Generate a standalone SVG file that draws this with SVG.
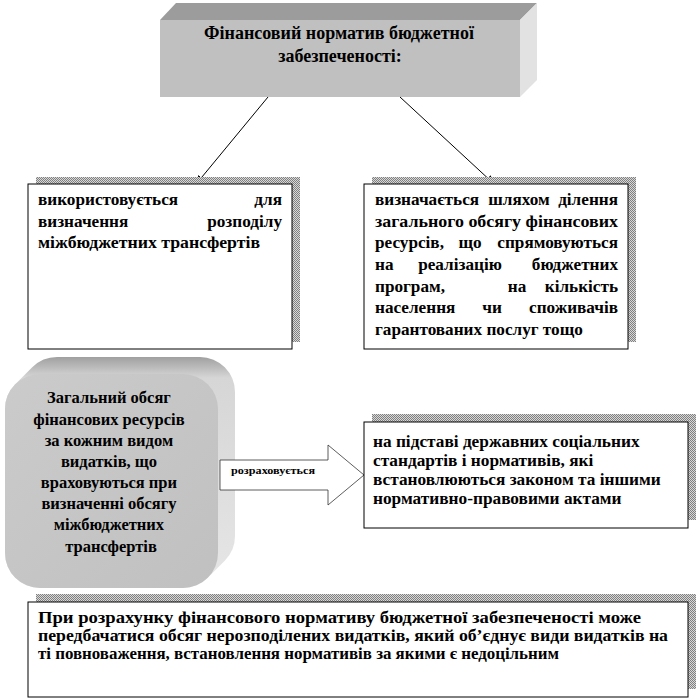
<svg xmlns="http://www.w3.org/2000/svg" width="698" height="700" viewBox="0 0 698 700">
<defs>
<style>
.t{font-family:"Liberation Serif","Times New Roman",serif;font-weight:bold;fill:#000}
.f18{font-size:18px}
.fx{font-size:17.2px}
.fr{font-size:16.5px}
.fb{font-size:17.3px}
.fn{font-size:16px}
.box{fill:#fff;stroke:#000;stroke-width:1}
.shadow{fill:url(#hatch)}
.conn{stroke:#000;stroke-width:1;fill:none;marker-end:url(#arr)}
</style>
<pattern id="hatch" width="2" height="2" patternUnits="userSpaceOnUse">
<rect width="2" height="2" fill="#d8d8d8"/>
<rect width="1" height="1" fill="#808080"/>
<rect x="1" y="1" width="1" height="1" fill="#808080"/>
</pattern>
<marker id="arr" markerWidth="8" markerHeight="8" refX="7" refY="4" orient="auto" markerUnits="userSpaceOnUse">
<path d="M0,0 L8,4 L0,8 Z" fill="#000"/>
</marker>
<linearGradient id="ext" x1="0" y1="0" x2="0" y2="1">
<stop offset="0" stop-color="#a0a0a0"/>
<stop offset="0.09" stop-color="#d6d6d6"/>
<stop offset="1" stop-color="#e6e6e6"/>
</linearGradient>
<linearGradient id="front" x1="0" y1="0" x2="1" y2="1">
<stop offset="0" stop-color="#cbcbcb"/>
<stop offset="1" stop-color="#c0c0c0"/>
</linearGradient>
</defs>

<g id="node-title">
<polygon points="160,20 176,3 537,3 520,20" fill="#9c9c9c"/>
<polygon points="520,20 537,3 537,80 520,97" fill="#e2e2e2"/>
<rect x="160" y="20" width="360" height="77" fill="#c0c0c0"/>
<text class="t f18" x="339" y="39" text-anchor="middle">Фінансовий норматив бюджетної</text>
<text class="t f18" x="340" y="62" text-anchor="middle">забезпеченості:</text>
</g>

<g id="connectors">
<line class="conn" x1="268" y1="97" x2="197" y2="183"/>
<line class="conn" x1="400" y1="97" x2="493" y2="183"/>
</g>

<g id="node-use">
<rect class="shadow" x="36" y="177" width="264" height="165"/>
<rect class="box" x="28" y="184" width="264" height="165"/>
<text class="t fx" x="38" y="205">використовується</text>
<text class="t fx" x="282" y="205" text-anchor="end">для</text>
<text class="t fx" x="38" y="227">визначення</text>
<text class="t fx" x="282" y="227" text-anchor="end">розподілу</text>
<text class="t fx" x="38" y="248" textLength="222" lengthAdjust="spacingAndGlyphs">міжбюджетних трансфертів</text>
</g>

<g id="node-define">
<rect class="shadow" x="372" y="177" width="264" height="165"/>
<rect class="box" x="364" y="184" width="264" height="165"/>
<text class="t fx" x="375" y="205">визначається</text>
<text class="t fx" x="519" y="205" text-anchor="middle">шляхом</text>
<text class="t fx" x="618" y="205" text-anchor="end">ділення</text>
<text class="t fx" x="375" y="227" textLength="243" lengthAdjust="spacingAndGlyphs">загального обсягу фінансових</text>
<text class="t fx" x="375" y="248">ресурсів,</text>
<text class="t fx" x="470" y="248" text-anchor="middle">що</text>
<text class="t fx" x="618" y="248" text-anchor="end">спрямовуються</text>
<text class="t fx" x="375" y="270">на</text>
<text class="t fx" x="460" y="270" text-anchor="middle">реалізацію</text>
<text class="t fx" x="618" y="270" text-anchor="end">бюджетних</text>
<text class="t fx" x="375" y="292">програм,</text>
<text class="t fx" x="517" y="292" text-anchor="middle">на</text>
<text class="t fx" x="618" y="292" text-anchor="end">кількість</text>
<text class="t fx" x="375" y="313">населення</text>
<text class="t fx" x="492" y="313" text-anchor="middle">чи</text>
<text class="t fx" x="618" y="313" text-anchor="end">споживачів</text>
<text class="t fx" x="375" y="335">гарантованих послуг тощо</text>
</g>

<g id="node-total">
<path d="M5,409 A35,35 0 0 1 15.25,384.25 L32.25,367.25 A35,35 0 0 1 57,357 L200,357 A35,35 0 0 1 235,392 L235,536 A35,35 0 0 1 224.75,560.75 L207.75,577.75 A35,35 0 0 1 183,588 L40,588 A35,35 0 0 1 5,553 Z" fill="url(#ext)"/>
<rect x="5" y="374" width="213" height="214" rx="35" ry="35" fill="url(#front)"/>
<text class="t fr" text-anchor="middle">
<tspan x="111" y="403">Загальний обсяг</tspan>
<tspan x="111" y="425">фінансових ресурсів</tspan>
<tspan x="111" y="446">за кожним видом</tspan>
<tspan x="111" y="467">видатків, що</tspan>
<tspan x="111" y="488">враховуються при</tspan>
<tspan x="111" y="509">визначенні обсягу</tspan>
<tspan x="111" y="530">міжбюджетних</tspan>
<tspan x="111" y="552">трансфертів</tspan>
</text>
</g>

<g id="node-arrow">
<polygon points="220,460 328,460 328,445 364,475 328,505 328,490 220,490" fill="#fff" stroke="#333" stroke-width="0.8"/>
<text class="t" x="231" y="474" font-size="10" textLength="84" lengthAdjust="spacingAndGlyphs">розраховується</text>
</g>

<g id="node-basis">
<rect class="shadow" x="372" y="414" width="324" height="106"/>
<rect class="box" x="364" y="422" width="324" height="106"/>
<text class="t fb">
<tspan x="373" y="447">на підставі державних соціальних</tspan>
<tspan x="373" y="466">стандартів і нормативів, які</tspan>
<tspan x="373" y="485">встановлюються законом та іншими</tspan>
<tspan x="373" y="504">нормативно-правовими актами</tspan>
</text>
</g>

<g id="node-note">
<rect class="shadow" x="36" y="594" width="660" height="95"/>
<rect class="box" x="28" y="602" width="660" height="95"/>
<text class="t fn" x="38" y="623" textLength="603" lengthAdjust="spacingAndGlyphs">При розрахунку фінансового нормативу бюджетної забезпеченості може</text>
<text class="t fn" x="38" y="641" textLength="630" lengthAdjust="spacingAndGlyphs">передбачатися обсяг нерозподілених видатків, який об’єднує види видатків на</text>
<text class="t fn" x="38" y="659" textLength="521" lengthAdjust="spacingAndGlyphs">ті повноваження, встановлення нормативів за якими є недоцільним</text>
</g>
</svg>
